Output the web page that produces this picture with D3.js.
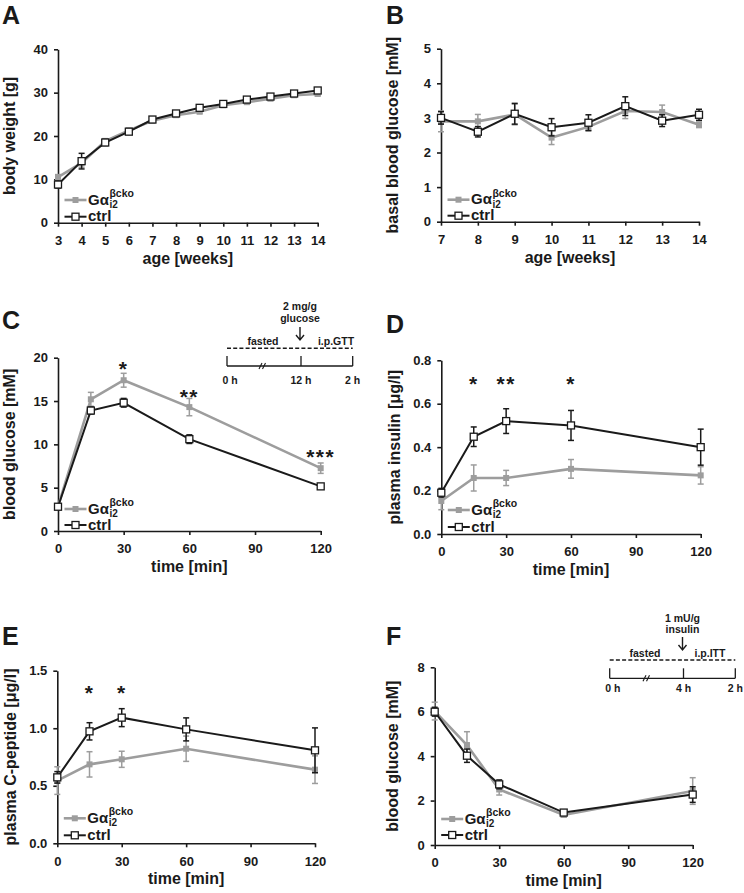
<!DOCTYPE html>
<html><head><meta charset="utf-8">
<script src="https://cdn.jsdelivr.net/npm/d3@7"></script>
<style>
body{margin:0;background:#fff}
svg{display:block}
text{font-family:"Liberation Sans",Arial,sans-serif;font-weight:bold;fill:#1a1a1a}
</style>
</head><body>
<svg id="chart" width="744" height="893"></svg>
<script>
// ---------------- DATA ----------------
const weeksA = [3,4,5,6,7,8,9,10,11,12,13,14];
const weightCko = [10.5,13.8,18.8,21.3,23.5,24.8,25.6,27.1,27.8,28.6,29.4,29.7];
const weightCkoErr = [0.6,1.0,0.6,0.5,0.4,0.4,0.4,0.4,0.4,0.4,0.4,0.4];
const weightCtrl = [8.8,14.2,18.5,21.0,23.8,25.2,26.5,27.4,28.4,29.1,29.8,30.5];
const weightCtrlErr = [0.8,1.8,0.7,0.5,0.5,0.5,0.5,0.5,0.5,0.5,0.5,0.6];

const weeksB = [7,8,9,10,11,12,13,14];
const basalCko = [2.9,2.9,3.1,2.43,2.74,3.2,3.17,2.8];
const basalCkoErr = [0.3,0.2,0.3,0.2,0.1,0.22,0.2,0.08];
const basalCtrl = [3.0,2.6,3.12,2.73,2.86,3.34,2.92,3.09];
const basalCtrlErr = [0.18,0.15,0.3,0.25,0.23,0.27,0.17,0.16];

const timesMin = [0,15,30,60,120];
const gttCko = [2.8,15.2,17.4,14.3,7.25];
const gttCkoErr = [0.2,0.8,0.8,1.0,0.6];
const gttCtrl = [2.8,13.9,14.8,10.6,5.15];
const gttCtrlErr = [0.2,0.4,0.5,0.5,0.2];

const insulinCko = [0.152,0.258,0.258,0.30,0.27];
const insulinCkoErr = [0.04,0.06,0.035,0.043,0.04];
const insulinCtrl = [0.19,0.448,0.52,0.50,0.40];
const insulinCtrlErr = [0.02,0.045,0.057,0.069,0.083];

const cpepCko = [0.545,0.686,0.73,0.822,0.64];
const cpepCkoErr = [0.12,0.11,0.07,0.11,0.12];
const cpepCtrl = [0.573,0.973,1.092,0.99,0.808];
const cpepCtrlErr = [0.05,0.075,0.078,0.1,0.195];

const ittCko = [6.03,4.5,2.5,1.35,2.43];
const ittCkoErr = [0.4,0.6,0.25,0.1,0.6];
const ittCtrl = [6.0,4.02,2.73,1.46,2.27];
const ittCtrlErr = [0.2,0.3,0.2,0.1,0.35];

// significance marks: x position, y value of star centre, label
const starsC = [[30,19.3,"*"],[60,16.1,"**"],[120,9.15,"***"]];
const starsD = [[15,0.717,"*"],[30,0.717,"**"],[60,0.717,"*"]];
const starsE = [[15,1.355,"*"],[30,1.355,"*"]];

// tick labels
const xTicksA = weeksA;
const yTicksA = [0,10,20,30,40];
const xTicksB = weeksB;
const yTicksB = [0,1,2,3,4,5];
const xTicksTime = [0,30,60,90,120];
const yTicksC = [0,5,10,15,20];
const yTicksD = [0,0.2,0.4,0.6,0.8];
const yTicksE = [0,0.5,1.0,1.5];
const yTicksF = [0,2,4,6,8];

// text labels
const panelLetters = ["A","B","C","D","E","F"];
const legendNames = ["Gα","ctrl"];
const gttInset = {top:["2 mg/g","glucose"], left:"fasted", right:"i.p.GTT", ticks:["0 h","12 h","2 h"]};
const ittInset = {top:["1 mU/g","insulin"], left:"fasted", right:"i.p.ITT", ticks:["0 h","4 h","2 h"]};

// ---------------- DRAW ----------------
const GREY = "#9d9d9d", BLACK = "#1a1a1a";
const svg = d3.select("#chart");

function drawPanel(c){
  const g = svg.append("g");
  const x = d3.scaleLinear().domain(c.xDomain).range([c.left, c.right]);
  const y = d3.scaleLinear().domain(c.yDomain).range([c.bottom, c.top]);

  // axes
  const xa = g.append("g").attr("transform",`translate(0,${c.bottom})`)
    .call(d3.axisBottom(x).tickValues(c.xTicks).tickSize(4).tickPadding(9).tickSizeOuter(0).tickFormat(d3.format("d")));
  const ya = g.append("g").attr("transform",`translate(${c.left},0)`)
    .call(d3.axisLeft(y).tickValues(c.yTicks).tickSize(4).tickPadding(6).tickSizeOuter(0).tickFormat(c.yFmt));
  [xa,ya].forEach(a=>{
    a.select(".domain").attr("stroke",BLACK).attr("stroke-width",1.6);
    a.selectAll(".tick line").attr("stroke",BLACK).attr("stroke-width",1.6);
    a.selectAll("text").style("font-size","13px");
  });

  // series
  const series = [
    {v:c.cko, e:c.ckoErr, color:GREY, w:2.6, filled:true},
    {v:c.ctrl, e:c.ctrlErr, color:BLACK, w:2, filled:false}
  ];
  series.forEach(s=>{
    const pts = c.xs.map((xv,i)=>({x:xv, y:s.v[i], e:s.e[i]}));
    g.append("path").datum(pts)
      .attr("fill","none").attr("stroke",s.color).attr("stroke-width",s.w)
      .attr("d", d3.line().x(d=>x(d.x)).y(d=>y(d.y)));
    const eb = g.append("g").attr("stroke",s.color).attr("stroke-width",1.5);
    pts.forEach(d=>{
      const cx = x(d.x), y1 = y(d.y+d.e), y2 = y(d.y-d.e);
      eb.append("line").attr("x1",cx).attr("x2",cx).attr("y1",y1).attr("y2",y2);
      eb.append("line").attr("x1",cx-3).attr("x2",cx+3).attr("y1",y1).attr("y2",y1);
      eb.append("line").attr("x1",cx-3).attr("x2",cx+3).attr("y1",y2).attr("y2",y2);
    });
    g.selectAll(null).data(pts).enter().append("rect")
      .attr("x",d=>x(d.x)-(s.filled?3:3.5)).attr("y",d=>y(d.y)-(s.filled?3:3.5))
      .attr("width",s.filled?6:7).attr("height",s.filled?6:7)
      .attr("fill",s.filled?s.color:"#fff")
      .attr("stroke",s.filled?"none":BLACK).attr("stroke-width",1.3);
  });

  // stars
  (c.stars||[]).forEach(([sx,sy,t])=>{
    g.append("text").attr("x",x(sx)).attr("y",y(sy)+0.58*21)
      .attr("text-anchor","middle").style("font-size","21px").style("letter-spacing","1.5px").text(t);
  });

  // legend
  const lx = c.left + 17.5;
  const ly1 = c.bottom - c.legOff[0], ly2 = c.bottom - c.legOff[1];
  g.append("line").attr("x1",lx-11).attr("x2",lx+11).attr("y1",ly1).attr("y2",ly1)
    .attr("stroke",GREY).attr("stroke-width",2.6);
  g.append("rect").attr("x",lx-3).attr("y",ly1-3).attr("width",6).attr("height",6).attr("fill",GREY);
  g.append("line").attr("x1",lx-11).attr("x2",lx+11).attr("y1",ly2).attr("y2",ly2)
    .attr("stroke",BLACK).attr("stroke-width",2);
  g.append("rect").attr("x",lx-3.5).attr("y",ly2-3.5).attr("width",7).attr("height",7)
    .attr("fill","#fff").attr("stroke",BLACK).attr("stroke-width",1.3);
  const t1 = g.append("text").attr("x",lx+12.5).attr("y",ly1+4.5).style("font-size","15px").text(legendNames[0]);
  const w1 = t1.node().getComputedTextLength();
  g.append("text").attr("x",lx+12.5+w1+0.5).attr("y",ly1-3).style("font-size","10.5px").text("βcko");
  g.append("text").attr("x",lx+12.5+w1+0.5).attr("y",ly1+8).style("font-size","10px").text("i2");
  g.append("text").attr("x",lx+12.5).attr("y",ly2+4.5).style("font-size","15px").text(legendNames[1]);

  // axis titles
  g.append("text").attr("x",(c.left+c.right)/2).attr("y",c.bottom+41)
    .attr("text-anchor","middle").style("font-size","16px").text(c.xTitle);
  g.append("text").attr("transform",`translate(${c.yTitleX},${(c.top+c.bottom)/2}) rotate(-90)`)
    .attr("text-anchor","middle").style("font-size","16px").text(c.yTitle);

  // panel letter
  g.append("text").attr("x",c.letter[0]).attr("y",c.letter[1]).style("font-size","25px").text(c.letterText);
}

function drawInset(p, labels){
  const g = svg.append("g").attr("stroke",BLACK);
  const [x0,xm,x1] = p.xs;
  g.append("line").attr("x1",x0).attr("x2",x1).attr("y1",p.dashY).attr("y2",p.dashY)
    .attr("stroke-width",1.5).attr("stroke-dasharray","4,2.2");
  g.append("line").attr("x1",x0).attr("x2",x1).attr("y1",p.lineY).attr("y2",p.lineY).attr("stroke-width",1.3);
  [x0,xm,x1].forEach(xx=>g.append("line").attr("x1",xx).attr("x2",xx)
    .attr("y1",p.lineY-10).attr("y2",p.lineY).attr("stroke-width",1.3));
  // break mark
  const bx = p.breakX, by = p.lineY;
  g.append("line").attr("x1",bx-4).attr("y1",by+3).attr("x2",bx-1).attr("y2",by-3).attr("stroke-width",1.1);
  g.append("line").attr("x1",bx-0.5).attr("y1",by+3).attr("x2",bx+2.5).attr("y2",by-3).attr("stroke-width",1.1);
  // arrow
  const ax = xm - 1;
  g.append("path").attr("fill","none").attr("stroke-width",1.4)
    .attr("d",`M${ax},${p.arrow[0]}V${p.arrow[1]}M${ax-4},${p.arrow[1]-5}L${ax},${p.arrow[1]}L${ax+4},${p.arrow[1]-5}`);
  const t = svg.append("g").style("font-size","10.5px");
  t.append("text").attr("x",ax).attr("y",p.topY[0]).attr("text-anchor","middle").text(labels.top[0]);
  t.append("text").attr("x",ax).attr("y",p.topY[1]).attr("text-anchor","middle").text(labels.top[1]);
  t.append("text").attr("x",p.leftX).attr("y",p.dashY-3).attr("text-anchor","middle").text(labels.left);
  t.append("text").attr("x",p.rightX).attr("y",p.dashY-3).attr("text-anchor","middle").text(labels.right);
  t.append("text").attr("x",x0-4.5).attr("y",p.tickLabY).text(labels.ticks[0]);
  t.append("text").attr("x",xm).attr("y",p.tickLabY).attr("text-anchor","middle").text(labels.ticks[1]);
  t.append("text").attr("x",x1).attr("y",p.tickLabY).attr("text-anchor","middle").text(labels.ticks[2]);
}

const f1 = d3.format(".1f"), fd = d3.format("d");

drawPanel({letterText:panelLetters[0], letter:[2,24], left:58, right:317.7, top:49.3, bottom:222.7,
  xDomain:[3,14], yDomain:[0,40], xTicks:xTicksA, yTicks:yTicksA, yFmt:fd,
  xs:weeksA, cko:weightCko, ckoErr:weightCkoErr, ctrl:weightCtrl, ctrlErr:weightCtrlErr,
  xTitle:"age [weeks]", yTitle:"body weight [g]", yTitleX:15, legOff:[22.7,6]});

drawPanel({letterText:panelLetters[1], letter:[386,24], left:441, right:699, top:48.7, bottom:221.7,
  xDomain:[7,14], yDomain:[0,5], xTicks:xTicksB, yTicks:yTicksB, yFmt:fd,
  xs:weeksB, cko:basalCko, ckoErr:basalCkoErr, ctrl:basalCtrl, ctrlErr:basalCtrlErr,
  xTitle:"age [weeks]", yTitle:"basal blood glucose [mM]", yTitleX:398, legOff:[22,6]});

drawPanel({letterText:panelLetters[2], letter:[2,329], left:58, right:320.7, top:357.7, bottom:531,
  xDomain:[0,120], yDomain:[0,20], xTicks:xTicksTime, yTicks:yTicksC, yFmt:fd,
  xs:timesMin, cko:gttCko, ckoErr:gttCkoErr, ctrl:gttCtrl, ctrlErr:gttCtrlErr, stars:starsC,
  xTitle:"time [min]", yTitle:"blood glucose [mM]", yTitleX:15, legOff:[22,6]});

drawPanel({letterText:panelLetters[3], letter:[386,333], left:441.3, right:700.7, top:360.3, bottom:534,
  xDomain:[0,120], yDomain:[0,0.8], xTicks:xTicksTime, yTicks:yTicksD, yFmt:f1,
  xs:timesMin, cko:insulinCko, ckoErr:insulinCkoErr, ctrl:insulinCtrl, ctrlErr:insulinCtrlErr, stars:starsD,
  xTitle:"time [min]", yTitle:"plasma insulin [μg/l]", yTitleX:400, legOff:[24,7]});

drawPanel({letterText:panelLetters[4], letter:[2,645], left:57.3, right:315, top:670.7, bottom:843.3,
  xDomain:[0,120], yDomain:[0,1.5], xTicks:xTicksTime, yTicks:yTicksE, yFmt:f1,
  xs:timesMin, cko:cpepCko, ckoErr:cpepCkoErr, ctrl:cpepCtrl, ctrlErr:cpepCtrlErr, stars:starsE,
  xTitle:"time [min]", yTitle:"plasma C-peptide [μg/l]", yTitleX:16, legOff:[25,8]});

drawPanel({letterText:panelLetters[5], letter:[386,645], left:434.7, right:692.7, top:667.3, bottom:845,
  xDomain:[0,120], yDomain:[0,8], xTicks:xTicksTime, yTicks:yTicksF, yFmt:fd,
  xs:timesMin, cko:ittCko, ckoErr:ittCkoErr, ctrl:ittCtrl, ctrlErr:ittCtrlErr,
  xTitle:"time [min]", yTitle:"blood glucose [mM]", yTitleX:398, legOff:[26,10]});

drawInset({xs:[227,301,352.7], dashY:348.3, lineY:366, breakX:263, arrow:[327,340],
  topY:[310,322], leftX:263, rightX:336, tickLabY:383.5}, gttInset);
drawInset({xs:[609.7,683.5,735.3], dashY:660, lineY:678.3, breakX:647, arrow:[637,650],
  topY:[621.5,633.3], leftX:645, rightX:710, tickLabY:691.7}, ittInset);
</script>
</body></html>
